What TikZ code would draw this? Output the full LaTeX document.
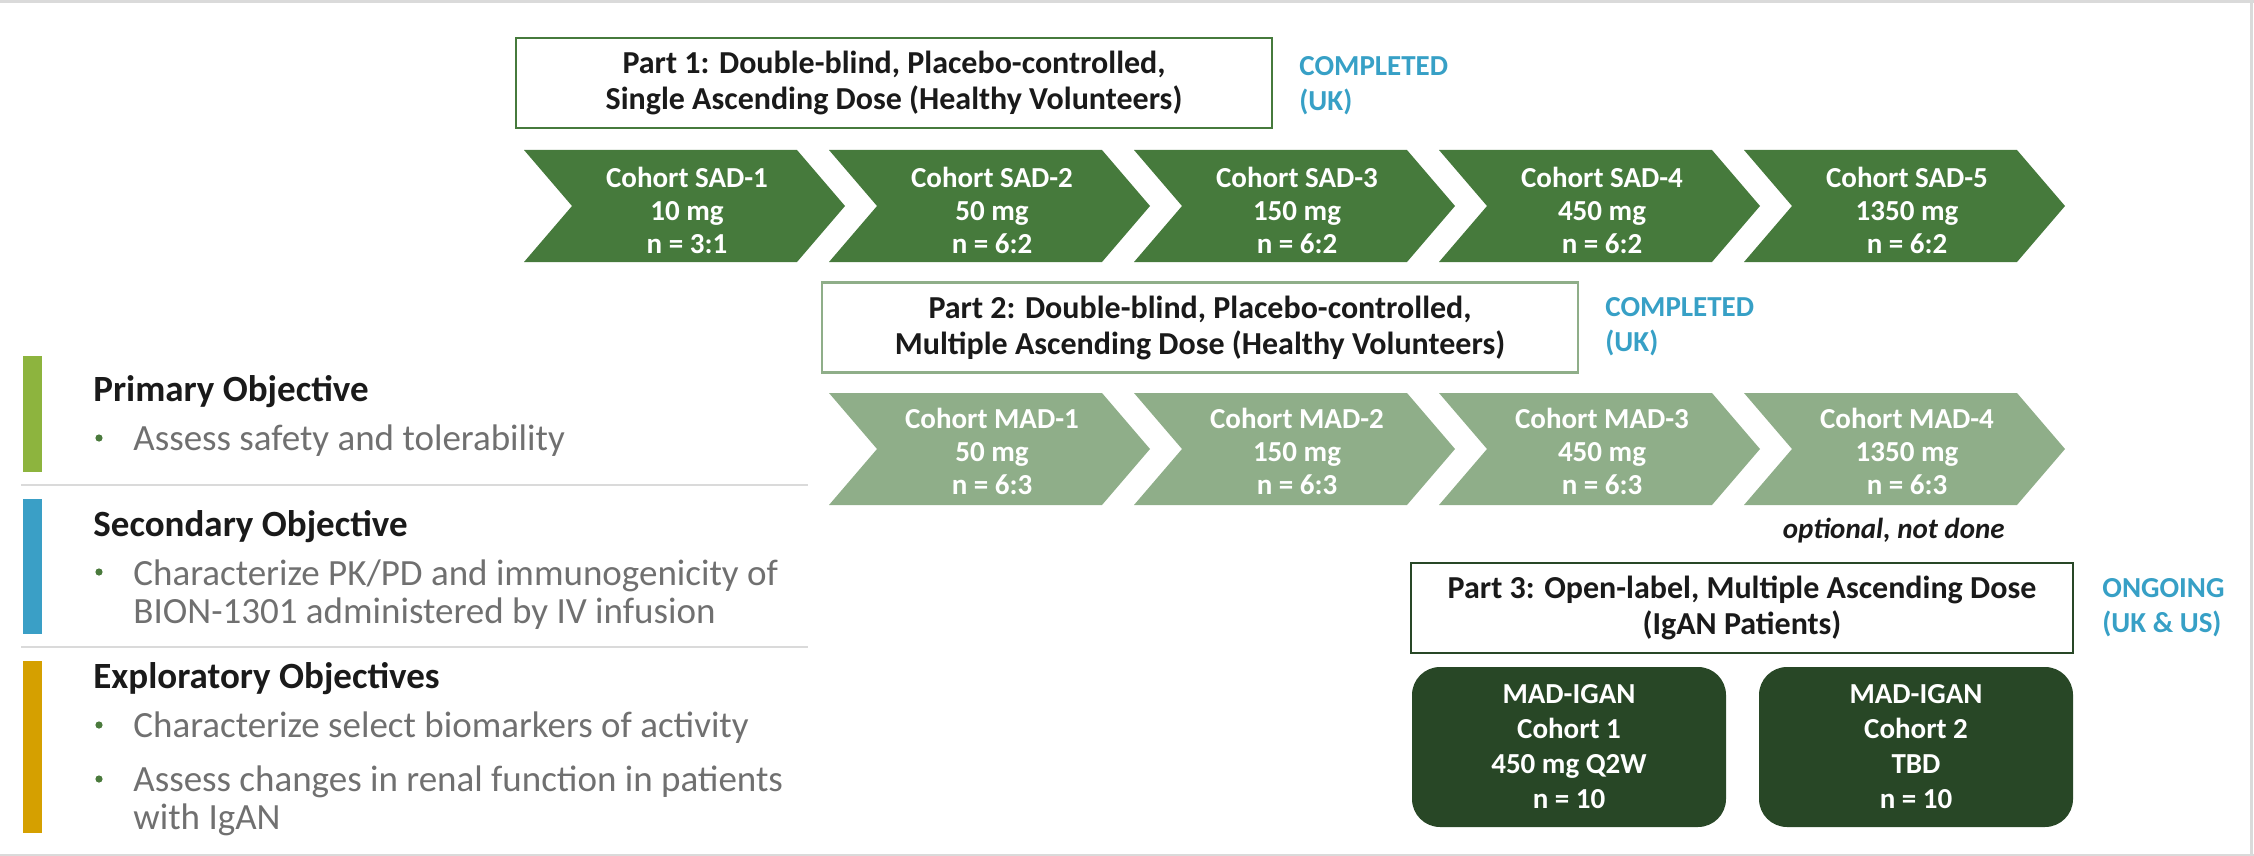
\documentclass[tikz,border=0pt]{standalone}
\usepackage{fontspec}
\setmainfont{Carlito}
\definecolor{sadgreen}{HTML}{467A3C}
\definecolor{madgreen}{HTML}{8FAE89}
\definecolor{darkbox}{HTML}{284726}
\definecolor{statusblue}{HTML}{37A0C6}
\definecolor{bargreen}{HTML}{8DB43E}
\definecolor{barblue}{HTML}{3A9FC6}
\definecolor{bargold}{HTML}{D5A000}
\definecolor{greytext}{HTML}{707070}
\definecolor{headblack}{HTML}{1A1A1A}
\definecolor{sepgrey}{HTML}{DADADA}
\definecolor{bulletgreen}{HTML}{4A7A3C}
\begin{document}
\begin{tikzpicture}[x=0.5pt,y=-0.5pt,
  chevtext/.style={text=white,font=\bfseries\fontsize{14.5}{16.5}\selectfont,align=center,inner sep=0pt},
  partbox/.style={draw,fill=white,line width=1pt,minimum width=378pt,minimum height=45pt,inner sep=0pt,align=center,text=headblack,font=\bfseries\fontsize{16}{18}\selectfont},
  statuslbl/.style={anchor=west,inner sep=0pt,align=left,text=statusblue,font=\bfseries\fontsize{14.5}{17.5}\selectfont},
  igan/.style={fill=darkbox,rounded corners=14pt,minimum width=157pt,minimum height=80pt,inner sep=0pt,align=center,text=white,font=\bfseries\fontsize{14.5}{17.5}\selectfont},
  heading/.style={anchor=base west,inner sep=0pt,text=headblack,font=\bfseries\fontsize{18.5}{22}\selectfont},
  bullettext/.style={anchor=base west,inner sep=0pt,align=left,text=greytext,font=\fontsize{18.5}{19}\selectfont},
  sepline/.style={draw=sepgrey,line width=1pt},
  framegrey/.style={draw=sepgrey,line width=1.5pt}
]
\useasboundingbox (0,0) rectangle (2254,856);
% frame
\draw[framegrey] (0,2) -- (2254,2);
\draw[framegrey] (2251,0) -- (2251,856);
\draw[framegrey] (0,855) -- (2254,855);

\newcommand\chevshape[3]{% left, top, colour
  \fill[#3] (#1,#2) -- ++(273,0) -- ++(48,56) -- ++(-48,56) -- ++(-273,0) -- ++(48,-56) -- cycle;
}
% Part 1
\node[partbox,draw=sadgreen] (p1) at (894,83) {Part 1: Double-blind, Placebo-controlled,\\Single Ascending Dose (Healthy Volunteers)};
\node[statuslbl] (s1) at (1299,86) {COMPLETED\\(UK)};

\chevshape{524}{150}{sadgreen}
\chevshape{829}{150}{sadgreen}
\chevshape{1134}{150}{sadgreen}
\chevshape{1439}{150}{sadgreen}
\chevshape{1744}{150}{sadgreen}
\node[chevtext] (sad1) at (687,210) {Cohort SAD-1\\10 mg\\n = 3:1};
\node[chevtext] (sad2) at (992,210) {Cohort SAD-2\\50 mg\\n = 6:2};
\node[chevtext] (sad3) at (1297,210) {Cohort SAD-3\\150 mg\\n = 6:2};
\node[chevtext] (sad4) at (1602,210) {Cohort SAD-4\\450 mg\\n = 6:2};
\node[chevtext] (sad5) at (1907,210) {Cohort SAD-5\\1350 mg\\n = 6:2};

% Part 2
\node[partbox,draw=madgreen,line width=1.25pt] (p2) at (1200,327.5) {Part 2: Double-blind, Placebo-controlled,\\Multiple Ascending Dose (Healthy Volunteers)};
\node[statuslbl] (s2) at (1605,327) {COMPLETED\\(UK)};

\chevshape{829}{393}{madgreen}
\chevshape{1134}{393}{madgreen}
\chevshape{1439}{393}{madgreen}
\chevshape{1744}{393}{madgreen}
\node[chevtext] (mad1) at (992,451) {Cohort MAD-1\\50 mg\\n = 6:3};
\node[chevtext] (mad2) at (1297,451) {Cohort MAD-2\\150 mg\\n = 6:3};
\node[chevtext] (mad3) at (1602,451) {Cohort MAD-3\\450 mg\\n = 6:3};
\node[chevtext] (mad4) at (1907,451) {Cohort MAD-4\\1350 mg\\n = 6:3};
\node[anchor=base east,inner sep=0pt,text=headblack,font=\bfseries\itshape\fontsize{14.5}{17}\selectfont] (opt) at (2005,538) {optional, not done};

% Part 3
\node[partbox,draw=darkbox,line width=1.25pt,minimum width=331pt] (p3) at (1742,608) {Part 3: Open-label, Multiple Ascending Dose\\(IgAN Patients)};
\node[statuslbl] (s3) at (2102,608) {ONGOING\\(UK \& US)};
\node[igan] (ig1) at (1569,747) {MAD-IGAN\\Cohort 1\\450 mg Q2W\\n = 10};
\node[igan] (ig2) at (1916,747) {MAD-IGAN\\Cohort 2\\TBD\\n = 10};

% Left panel
\fill[bargreen] (23,356) rectangle (42,472);
\fill[barblue] (23,499) rectangle (42,634);
\fill[bargold] (23,661) rectangle (42,833);
\draw[sepline] (21,485) -- (808,485);
\draw[sepline] (21,647) -- (808,647);

\node[heading] (h1) at (93,401) {Primary Objective};
\fill[bulletgreen] (99,438) circle (1.8pt);
\node[bullettext] (b1) at (133,450) {Assess safety and tolerability};

\node[heading] (h2) at (93,536) {Secondary Objective};
\fill[bulletgreen] (99,572) circle (1.8pt);
\node[bullettext] (b2) at (133,623) {Characterize PK/PD and immunogenicity of\\BION-1301 administered by IV infusion};

\node[heading] (h3) at (93,688) {Exploratory Objectives};
\fill[bulletgreen] (99,725) circle (1.8pt);
\node[bullettext] (b3) at (133,737) {Characterize select biomarkers of activity};
\fill[bulletgreen] (99,779) circle (1.8pt);
\node[bullettext] (b4) at (133,829) {Assess changes in renal function in patients\\with IgAN};
\end{tikzpicture}
\end{document}
